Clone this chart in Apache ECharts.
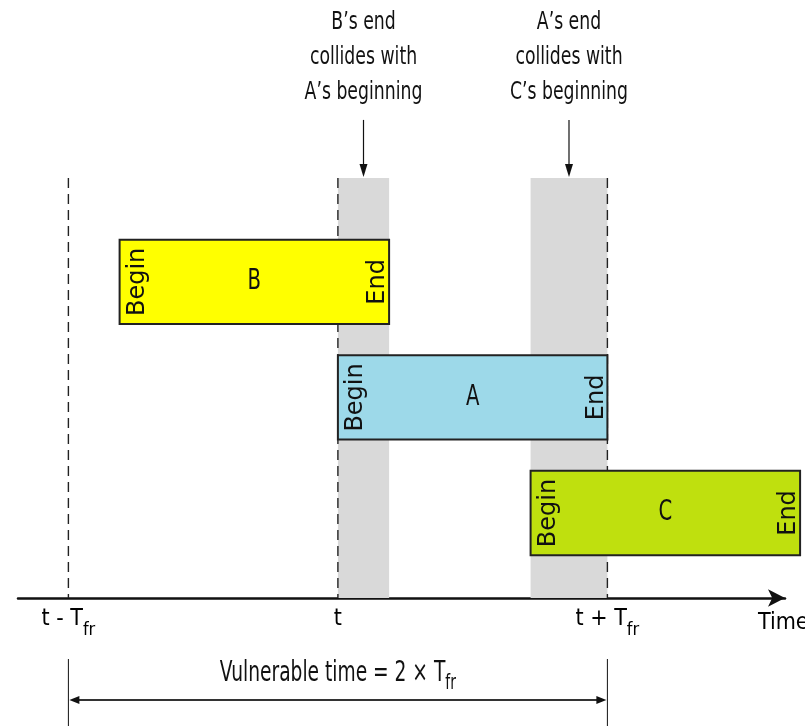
<!DOCTYPE html>
<html><head><meta charset="utf-8">
<script src="https://cdn.jsdelivr.net/npm/echarts@6/dist/echarts.min.js"></script>
<style>html,body{margin:0;padding:0;background:#fff}#c{width:805px;height:726px}</style>
</head><body><div id="c"></div>
<script>
// ---- data (time in units of T_fr, relative to t) ----
const frameNames = ['B', 'A', 'C'];
const frameStarts = [-0.81, 0, 0.715];
const frameEnds = [0.19, 1, 1.715];
const frameLanes = [3, 2, 1];
const tickValues = [-1, 0, 1];
const tickLabels = ['t - T{s|fr}', 't', 't + T{s|fr}'];
const collisionNotes = [
  ['B\u2019s end', 'collides with', 'A\u2019s beginning'],
  ['A\u2019s end', 'collides with', 'C\u2019s beginning']
];
const vulnerableLabel = 'Vulnerable time = 2 \u00d7 T{s|fr}';
const axisName = 'Time';

// collision windows derived from overlapping frames
const collisionStarts = [frameStarts[1], frameStarts[2]];
const collisionEnds = [frameEnds[0], frameEnds[1]];

// ---- styling ----
const NARROW = "'Liberation Sans Narrow', 'DejaVu Sans Condensed', sans-serif";
const WIDE = "'DejaVu Sans', Verdana, sans-serif";
const frameColors = ['#ffff00', '#9dd9e9', '#bfe00e'];
const laneHalf = 0.365;
const regionTop = 3.9;
const yMin = 0.264;

const chart = echarts.init(document.getElementById('c'));

const option = {
  animation: false,
  backgroundColor: '#fff',
  grid: { left: 18, right: 20, top: 0, bottom: 128, outerBoundsMode: 'none', containLabel: false },
  xAxis: {
    type: 'value', min: -1.187, max: 1.659,
    axisLine: { show: true, onZero: false, symbol: ['none', 'arrow'], symbolSize: [13, 17],
      lineStyle: { color: '#111', width: 2.5 } },
    axisTick: { show: false },
    splitLine: { show: false },
    axisLabel: {
      customValues: tickValues,
      formatter: v => tickLabels[tickValues.indexOf(v)],
      fontSize: 23, fontFamily: NARROW, color: '#000', margin: 1, lineHeight: 40,
      rich: { s: { fontSize: 18, fontFamily: NARROW, color: '#000', verticalAlign: 'bottom' } }
    },
    name: axisName, nameLocation: 'end', nameGap: -27,
    nameTextStyle: { fontSize: 23, fontFamily: NARROW, color: '#000', verticalAlign: 'top', padding: [14, 0, 0, 0] }
  },
  yAxis: { type: 'value', min: yMin, max: 5.44, show: false },
  series: [
    // collision windows (grey) with their annotations
    {
      type: 'custom', clip: false, z: 1,
      data: collisionStarts.map((s, i) => [s, collisionEnds[i]]),
      renderItem(params, api) {
        const a = api.coord([api.value(0), regionTop]);
        const b = api.coord([api.value(1), yMin]);
        const cx = (a[0] + b[0]) / 2;
        const top = a[1];
        const notes = collisionNotes[params.dataIndex];
        const children = [
          { type: 'rect', shape: { x: a[0], y: a[1], width: b[0] - a[0], height: b[1] - a[1] },
            style: { fill: '#d9d9d9' } },
          { type: 'line', shape: { x1: cx, y1: top - 58, x2: cx, y2: top - 10 },
            style: { stroke: '#111', lineWidth: 1.2 } },
          { type: 'polygon', shape: { points: [[cx - 4, top - 14], [cx + 4, top - 14], [cx, top - 1]] },
            style: { fill: '#111' } }
        ];
        notes.forEach((t, k) => {
          children.push({ type: 'text', x: cx, y: top - 155 + k * 35, scaleX: 0.8,
            style: { text: t, align: 'center', verticalAlign: 'middle', fontSize: 24, fontFamily: NARROW, fill: '#111' } });
        });
        return { type: 'group', children };
      }
    },
    // dashed reference lines
    {
      type: 'custom', clip: false, z: 2,
      data: tickValues.map(v => [v]),
      renderItem(params, api) {
        const a = api.coord([api.value(0), regionTop]);
        const b = api.coord([api.value(0), yMin]);
        return { type: 'line', shape: { x1: a[0], y1: a[1], x2: b[0], y2: b[1] },
          style: { stroke: '#222', lineWidth: 1.4, lineDash: [10, 6] } };
      }
    },
    // frames
    {
      type: 'custom', clip: false, z: 3,
      data: frameNames.map((n, i) => [frameStarts[i], frameEnds[i], frameLanes[i]]),
      renderItem(params, api) {
        const i = params.dataIndex;
        const lane = api.value(2);
        const tl = api.coord([api.value(0), lane + laneHalf]);
        const br = api.coord([api.value(1), lane - laneHalf]);
        const cx = (tl[0] + br[0]) / 2, cy = (tl[1] + br[1]) / 2;
        const wide = { align: 'center', verticalAlign: 'middle', fontSize: 24, fontFamily: WIDE, fill: '#111' };
        return { type: 'group', children: [
          { type: 'rect', shape: { x: tl[0], y: tl[1], width: br[0] - tl[0], height: br[1] - tl[1] },
            style: { fill: frameColors[i], stroke: '#222', lineWidth: 2 } },
          { type: 'text', x: cx, y: cy, scaleX: 0.78,
            style: { text: frameNames[i], align: 'center', verticalAlign: 'middle', fontSize: 28, fontFamily: NARROW, fill: '#111' } },
          { type: 'text', x: tl[0] + 18, y: cy, rotation: Math.PI / 2, style: Object.assign({ text: 'Begin' }, wide) },
          { type: 'text', x: br[0] - 11, y: cy, rotation: Math.PI / 2, style: Object.assign({ text: 'End' }, wide) }
        ] };
      }
    },
    // vulnerable time span
    {
      type: 'custom', clip: false, z: 4,
      data: [[tickValues[0], tickValues[2]]],
      renderItem(params, api) {
        const a = api.coord([api.value(0), yMin]);
        const b = api.coord([api.value(1), yMin]);
        const base = a[1];
        const yA = base + 102;
        return { type: 'group', children: [
          { type: 'line', shape: { x1: a[0], y1: base + 61, x2: a[0], y2: base + 130 }, style: { stroke: '#111', lineWidth: 1 } },
          { type: 'line', shape: { x1: b[0], y1: base + 61, x2: b[0], y2: base + 130 }, style: { stroke: '#111', lineWidth: 1 } },
          { type: 'line', shape: { x1: a[0] + 4, y1: yA, x2: b[0] - 4, y2: yA }, style: { stroke: '#333', lineWidth: 2 } },
          { type: 'polygon', shape: { points: [[a[0] + 1, yA], [a[0] + 11, yA - 4], [a[0] + 11, yA + 4]] }, style: { fill: '#111' } },
          { type: 'polygon', shape: { points: [[b[0] - 1, yA], [b[0] - 11, yA - 4], [b[0] - 11, yA + 4]] }, style: { fill: '#111' } },
          { type: 'text', x: (a[0] + b[0]) / 2, y: base + 76, scaleX: 0.74,
            style: { text: vulnerableLabel, align: 'center', verticalAlign: 'middle', fontSize: 28, lineHeight: 40,
              fontFamily: NARROW, fill: '#111',
              rich: { s: { fontSize: 21, fontFamily: NARROW, fill: '#111', verticalAlign: 'bottom' } } } }
        ] };
      }
    }
  ]
};
chart.setOption(option);
</script>
</body></html>
